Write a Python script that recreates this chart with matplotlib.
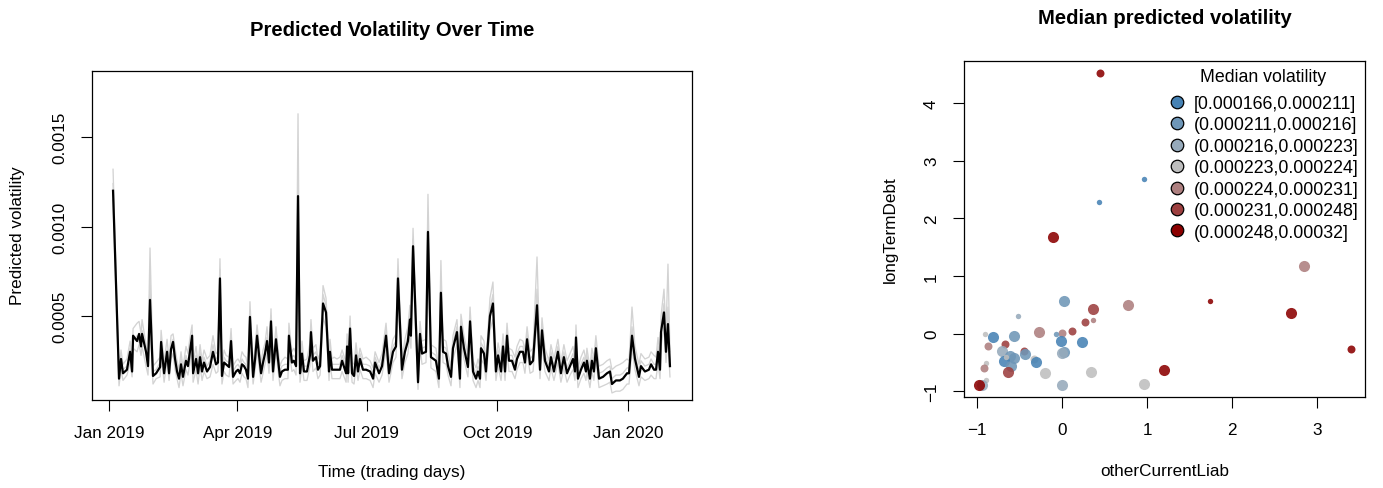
import numpy as np
import matplotlib
matplotlib.use("Agg")
import matplotlib.pyplot as plt
import matplotlib.dates as mdates
from matplotlib.lines import Line2D

plt.rcParams['font.family'] = ['Liberation Sans', 'DejaVu Sans']

# ---------------- left panel data ----------------
# days since 2019-01-01; volatility in units of 1e-4
days = [2.6, 6.8, 8.2, 9.6, 12.4, 14.6, 16.0, 16.7, 19.5, 20.9,
        22.3, 23.0, 25.8, 27.2, 28.6, 30.7, 32.9, 35.7, 36.4, 38.5,
        40.6, 42.0, 43.4, 44.8, 46.2, 47.6, 49.0, 50.4, 51.8, 53.9,
        55.3, 56.7, 58.2, 58.9, 61.0, 62.4, 63.8, 65.2, 66.6, 68.7,
        70.8, 72.9, 75.0, 76.4, 77.8, 79.2, 80.7, 82.1, 84.2, 85.6,
        87.0, 89.1, 90.5, 91.9, 93.3, 94.7, 96.1, 97.5, 98.9, 101.1,
        102.5, 103.9, 105.3, 106.7, 108.1, 109.5, 110.9, 112.3, 113.7, 115.1,
        117.2, 118.6, 120.0, 121.4, 123.5, 125.6, 126.3, 128.4, 129.8, 131.3,
        132.7, 134.1, 135.5, 136.9, 139.0, 141.1, 141.8, 143.2, 145.3, 146.7,
        148.2, 150.3, 152.4, 154.5, 155.2, 156.6, 158.0, 160.1, 162.2, 163.7,
        166.5, 167.2, 167.9, 169.3, 170.7, 172.1, 173.5, 174.9, 176.3, 178.4,
        180.6, 183.4, 185.5, 186.9, 189.7, 191.8, 194.6, 196.7, 199.5, 201.6,
        203.0, 205.8, 207.9, 210.0, 211.4, 212.1, 213.6, 217.1, 218.5, 219.9,
        222.7, 224.1, 226.2, 229.7, 231.8, 233.2, 234.7, 236.8, 238.2, 240.3,
        241.7, 244.5, 246.6, 247.3, 249.4, 252.2, 253.7, 255.8, 257.9, 259.3,
        260.7, 261.4, 263.5, 264.9, 266.3, 267.7, 269.8, 271.9, 273.4, 275.5,
        276.9, 278.3, 279.7, 281.1, 283.2, 285.3, 286.7, 288.8, 290.9, 292.3,
        293.8, 295.9, 298.0, 300.8, 302.9, 304.3, 306.4, 309.2, 310.6, 312.7,
        315.5, 317.6, 319.7, 321.9, 324.0, 326.1, 327.5, 328.2, 329.6, 331.7,
        333.8, 335.2, 335.9, 338.0, 339.4, 340.8, 342.2, 344.4, 347.2, 350.0,
        352.1, 353.5, 356.3, 359.1, 361.2, 364.1, 365.5, 367.6, 369.7, 372.5,
        373.9, 376.7, 379.5, 381.0, 383.1, 384.5, 385.9, 387.3, 388.0, 390.1,
        391.5, 392.9, 394.3]

vol_main = [12.0, 1.5, 2.6, 1.8, 2.0, 3.0, 1.9, 3.9, 3.6, 4.0,
            3.3, 4.0, 3.0, 2.2, 5.9, 1.65, 1.8, 2.15, 3.55, 1.8,
            3.0, 1.8, 3.15, 3.55, 2.6, 1.9, 1.5, 2.3, 1.6, 2.5,
            2.2, 3.0, 3.9, 1.8, 2.6, 1.8, 2.7, 1.9, 2.4, 1.9,
            2.15, 3.0, 2.3, 2.4, 7.1, 1.65, 2.4, 2.3, 2.15, 3.6,
            1.6, 1.9, 2.0, 1.8, 2.3, 2.2, 2.0, 1.5, 4.95, 1.6,
            2.6, 3.9, 2.8, 1.8, 2.4, 2.9, 3.6, 2.4, 4.7, 1.9,
            3.7, 2.6, 1.6, 1.9, 2.0, 2.0, 3.9, 2.4, 2.5, 2.2,
            11.7, 1.8, 2.9, 1.9, 1.9, 2.8, 4.1, 2.5, 2.7, 2.0,
            2.2, 5.7, 5.2, 1.9, 3.0, 2.0, 2.0, 2.0, 2.0, 2.5,
            1.8, 3.3, 1.8, 4.3, 1.8, 1.65, 2.8, 1.9, 2.6, 2.0,
            2.0, 1.9, 1.5, 2.4, 1.8, 2.2, 3.9, 1.8, 3.0, 3.3,
            7.1, 2.0, 3.0, 3.6, 4.8, 3.9, 8.9, 1.3, 4.0, 2.9,
            3.0, 9.7, 2.7, 2.5, 1.5, 6.3, 3.0, 2.9, 2.2, 1.6,
            3.2, 4.1, 1.5, 4.4, 3.2, 2.15, 4.7, 1.9, 1.5, 1.9,
            1.5, 3.2, 2.9, 1.9, 3.5, 5.0, 5.7, 1.9, 2.8, 1.9,
            3.3, 1.9, 3.9, 2.5, 2.5, 2.0, 2.6, 3.0, 3.0, 2.4,
            3.7, 2.3, 2.5, 5.6, 2.0, 4.2, 2.5, 1.9, 2.7, 1.9,
            3.0, 1.8, 2.7, 1.8, 2.2, 2.6, 1.9, 3.8, 1.5, 2.0,
            2.4, 1.9, 2.5, 1.5, 2.5, 1.9, 3.2, 1.5, 1.6, 1.8,
            1.9, 1.2, 1.4, 1.4, 1.5, 1.8, 1.8, 3.9, 2.6, 1.6,
            2.2, 1.9, 2.0, 2.3, 2.0, 2.0, 3.0, 2.0, 4.1, 5.2,
            3.0, 4.55, 2.2]

vol_grey1 = [13.2, 1.9, 3.1, 2.3, 2.6, 3.6, 2.6, 4.3, 4.6, 4.7,
             4.0, 4.8, 3.4, 2.8, 8.8, 2.2, 2.4, 2.7, 4.2, 2.4,
             3.7, 2.5, 3.9, 4.0, 3.2, 2.5, 2.0, 3.0, 2.1, 3.3,
             2.9, 3.8, 4.5, 2.4, 3.3, 2.3, 3.4, 2.5, 3.1, 2.6,
             2.8, 3.9, 2.9, 3.0, 8.2, 2.2, 3.1, 2.8, 2.7, 4.3,
             2.2, 2.5, 2.6, 2.4, 3.0, 2.8, 2.7, 2.1, 5.8, 2.2,
             3.3, 4.5, 3.4, 2.4, 3.1, 3.5, 4.4, 3.0, 5.4, 2.5,
             4.4, 3.2, 2.2, 2.5, 2.7, 2.6, 4.6, 3.0, 3.2, 2.9,
             16.3, 2.4, 3.6, 2.5, 2.6, 3.5, 4.8, 3.2, 3.4, 2.6,
             2.9, 6.7, 6.0, 2.6, 3.7, 2.6, 2.7, 2.6, 2.7, 3.1,
             2.4, 4.0, 2.4, 5.0, 2.4, 2.3, 3.5, 2.5, 3.2, 2.6,
             2.7, 2.5, 2.1, 3.0, 2.4, 2.9, 4.6, 2.4, 3.7, 4.0,
             8.2, 2.6, 3.7, 4.4, 5.6, 4.6, 9.9, 1.9, 4.7, 3.6,
             3.7, 11.8, 3.4, 3.2, 2.1, 8.1, 3.7, 3.6, 2.9, 2.2,
             3.9, 4.8, 2.1, 5.1, 3.9, 2.8, 5.5, 2.5, 2.1, 2.6,
             2.1, 3.9, 3.6, 2.5, 4.2, 6.0, 6.9, 2.5, 3.5, 2.6,
             4.0, 2.5, 4.6, 3.2, 3.1, 2.7, 3.3, 3.7, 3.6, 3.1,
             4.4, 3.0, 3.2, 8.3, 2.6, 4.9, 3.2, 2.5, 3.4, 2.6,
             3.7, 2.4, 3.4, 2.5, 2.9, 3.3, 2.5, 4.5, 2.1, 2.7,
             3.1, 2.5, 3.2, 2.1, 3.2, 2.6, 3.9, 2.2, 2.3, 2.5,
             2.6, 2.0, 2.2, 2.3, 2.4, 2.6, 2.5, 5.5, 3.3, 2.3,
             2.9, 2.6, 2.7, 3.0, 2.8, 2.7, 3.8, 2.8, 5.0, 6.5,
             4.0, 7.9, 3.0]

vol_grey2 = [11.5, 1.1, 2.0, 1.4, 1.7, 2.4, 1.6, 3.2, 3.0, 3.4,
             2.8, 3.3, 2.2, 1.7, 5.0, 1.2, 1.5, 1.6, 2.9, 1.3,
             2.5, 1.4, 2.6, 2.9, 2.0, 1.5, 1.0, 1.8, 1.1, 2.0,
             1.7, 2.4, 3.1, 1.3, 2.0, 1.2, 2.2, 1.4, 1.9, 1.5,
             1.6, 2.3, 1.8, 1.9, 6.0, 1.2, 1.9, 1.7, 1.6, 3.0,
             1.2, 1.4, 1.5, 1.3, 1.8, 1.6, 1.5, 1.0, 4.0, 1.2,
             2.0, 3.1, 2.2, 1.3, 1.8, 2.3, 2.9, 1.8, 3.9, 1.4,
             3.0, 2.0, 1.1, 1.4, 1.5, 1.5, 3.2, 1.9, 2.0, 1.7,
             10.6, 1.3, 2.3, 1.4, 1.4, 2.2, 3.3, 1.9, 2.1, 1.5,
             1.7, 4.9, 4.4, 1.4, 2.4, 1.5, 1.5, 1.5, 1.5, 1.9,
             1.3, 2.7, 1.3, 3.5, 1.3, 1.2, 2.2, 1.4, 2.0, 1.5,
             1.5, 1.4, 1.0, 1.8, 1.3, 1.7, 3.1, 1.3, 2.4, 2.7,
             6.1, 1.5, 2.4, 2.9, 4.0, 3.2, 7.8, 0.9, 3.3, 2.3,
             2.4, 8.5, 2.1, 1.9, 1.0, 5.4, 2.4, 2.3, 1.7, 1.1,
             2.6, 3.4, 1.0, 3.6, 2.6, 1.6, 3.9, 1.4, 1.0, 1.4,
             1.0, 2.6, 2.3, 1.4, 2.8, 4.2, 4.8, 1.4, 2.2, 1.4,
             2.7, 1.4, 3.1, 1.9, 1.9, 1.5, 2.0, 2.4, 2.4, 1.8,
             3.0, 1.8, 1.9, 4.8, 1.5, 3.4, 1.9, 1.4, 2.1, 1.4,
             2.4, 1.3, 2.1, 1.3, 1.7, 2.0, 1.4, 3.1, 1.0, 1.5,
             1.8, 1.4, 1.9, 1.0, 1.9, 1.4, 2.6, 1.0, 1.1, 1.2,
             1.3, 0.7, 0.8, 0.8, 0.9, 1.2, 1.2, 3.2, 2.0, 1.1,
             1.6, 1.4, 1.5, 1.7, 1.5, 1.5, 2.4, 1.5, 3.3, 4.4,
             2.4, 3.8, 1.6]

vol_grey3 = [12.4, 1.6, 2.4, 2.0, 2.2, 3.2, 2.1, 3.6, 3.9, 3.5,
             3.6, 4.2, 3.0, 2.5, 7.0, 1.9, 2.0, 2.4, 3.3, 2.1,
             3.1, 1.6, 3.3, 3.7, 2.9, 2.2, 1.8, 2.6, 1.9, 2.8,
             2.4, 3.3, 3.6, 2.1, 2.8, 2.0, 3.0, 2.1, 2.7, 2.2,
             2.5, 3.4, 2.6, 2.7, 7.6, 1.9, 2.7, 2.5, 2.4, 3.9,
             1.9, 2.2, 2.3, 2.1, 2.6, 2.4, 2.3, 1.8, 5.2, 1.9,
             2.9, 4.2, 3.0, 2.1, 2.7, 3.1, 3.8, 2.7, 5.0, 2.2,
             3.9, 2.8, 1.9, 2.2, 2.3, 2.3, 4.1, 2.7, 2.8, 2.5,
             13.4, 2.1, 3.2, 2.2, 2.2, 3.1, 4.4, 2.8, 3.0, 2.3,
             2.5, 6.2, 5.6, 2.2, 3.3, 2.3, 2.3, 2.3, 2.3, 2.8,
             2.1, 3.6, 2.1, 4.6, 2.1, 1.9, 3.1, 2.2, 2.9, 2.3,
             2.3, 2.2, 1.8, 2.7, 2.1, 2.5, 4.2, 2.1, 3.3, 3.6,
             7.6, 2.3, 3.3, 3.9, 5.1, 4.2, 9.3, 1.6, 4.3, 3.2,
             3.3, 10.4, 3.0, 2.8, 1.8, 7.0, 3.3, 3.2, 2.5, 1.9,
             3.5, 4.4, 1.8, 4.7, 3.5, 2.4, 5.0, 2.2, 1.8, 2.2,
             1.8, 3.5, 3.2, 2.2, 3.8, 5.4, 6.2, 2.2, 3.1, 2.2,
             3.6, 2.2, 4.2, 2.8, 2.8, 2.3, 2.9, 3.3, 3.3, 2.7,
             4.0, 2.6, 2.8, 6.5, 2.3, 4.5, 2.8, 2.2, 3.0, 2.2,
             3.3, 2.1, 3.0, 2.1, 2.5, 2.9, 2.2, 4.1, 1.8, 2.3,
             2.7, 2.2, 2.8, 1.8, 2.8, 2.2, 3.5, 1.8, 1.9, 2.1,
             2.2, 1.5, 1.7, 1.7, 1.8, 2.1, 2.1, 4.4, 2.9, 1.9,
             2.5, 2.2, 2.3, 2.6, 2.3, 2.3, 3.3, 2.3, 4.4, 5.7,
             3.3, 5.5, 2.5]

vol_unit = 1e-4
time_ticks = ['2019-01-01', '2019-04-01', '2019-07-01', '2019-10-01', '2020-01-01']
time_tick_labels = ['Jan 2019', 'Apr 2019', 'Jul 2019', 'Oct 2019', 'Jan 2020']
vol_ticks = [0.0005, 0.0010, 0.0015]
vol_tick_labels = ['0.0005', '0.0010', '0.0015']

# ---------------- right panel data ----------------
other_current_liab = [0.45, 0.96, 0.435, -0.10, 2.84, 1.74, 0.78, 0.02, 0.37, 0.37,
                      0.27, 0.12, 2.69, 3.39, 1.20, 0.96, 0.34, 0.00, -0.20, 0.24,
                      0.00, -0.07, -0.01, 0.02, 0.00, -0.27, -0.51, -0.56, -0.81, -0.90,
                      -0.87, -0.67, -0.70, -0.61, -0.45, -0.43, -0.56, -0.68, -0.60, -0.33,
                      -0.30, -0.63, -0.89, -0.91, -0.89, -0.66, -0.94, -0.97]
long_term_debt = [4.52, 2.68, 2.28, 1.67, 1.17, 0.57, 0.50, 0.56, 0.43, 0.24,
                  0.20, 0.05, 0.35, -0.27, -0.63, -0.88, -0.66, -0.89, -0.69, -0.15,
                  0.01, 0.00, -0.12, -0.32, -0.34, 0.03, 0.31, -0.05, -0.06, 0.00,
                  -0.21, -0.18, -0.31, -0.38, -0.31, -0.36, -0.42, -0.47, -0.56, -0.44,
                  -0.49, -0.66, -0.51, -0.60, -0.81, -0.40, -0.90, -0.90]
vol_class = [7, 1, 1, 7, 5, 7, 5, 2, 6, 5,
             6, 6, 7, 7, 7, 4, 4, 3, 4, 1,
             5, 2, 1, 2, 3, 5, 3, 2, 1, 4,
             5, 6, 3, 2, 6, 2, 2, 1, 2, 4,
             1, 6, 4, 5, 4, 4, 3, 7]
point_size = ['M', 'S', 'S', 'L', 'L', 'S', 'L', 'L', 'L', 'S',
              'M', 'M', 'L', 'M', 'L', 'L', 'L', 'L', 'L', 'L',
              'M', 'S', 'L', 'L', 'L', 'L', 'S', 'L', 'L', 'S',
              'M', 'M', 'L', 'L', 'M', 'L', 'L', 'L', 'L', 'M',
              'L', 'L', 'S', 'M', 'S', 'S', 'L', 'L']
class_labels = ['[0.000166,0.000211]', '(0.000211,0.000216]', '(0.000216,0.000223]',
                '(0.000223,0.000224]', '(0.000224,0.000231]', '(0.000231,0.000248]',
                '(0.000248,0.00032]']
class_colors = ['#4682B4', '#6E96B7', '#96AABB', '#BEBEBE', '#AD7F7F', '#9C3F3F', '#8B0000']

# ---------------- figure ----------------
W, H = 1383, 489
fig = plt.figure(figsize=(W / 100, H / 100), dpi=100)
FS = 12.3
LFS = 12.8
TFS = 14.6


def px_rect(l, t, r, b):
    return [l / W, 1 - b / H, (r - l) / W, (b - t) / H]


# Left panel
ax1 = fig.add_axes(px_rect(92, 72, 692, 401))
t0 = mdates.date2num(np.datetime64('2019-01-01'))
xt = t0 + np.array(days)
for g in (vol_grey1, vol_grey2, vol_grey3):
    ax1.plot(xt, np.array(g) * vol_unit, color='#D3D3D3', lw=0.95, zorder=1)
ax1.plot(xt, np.array(vol_main) * vol_unit, color='black', lw=1.6, zorder=2)
ax1.set_xlim(t0 - 12.2, t0 + 409.8)
ax1.set_ylim(3.07e-5, 1.869e-3)
ax1.set_xticks(mdates.date2num(np.array(time_ticks, dtype='datetime64[D]')))
ax1.set_xticklabels(time_tick_labels)
ax1.set_yticks(vol_ticks)
ax1.set_yticklabels(vol_tick_labels, rotation=90, va='center')
ax1.tick_params(direction='out', length=8, width=0.8, pad=10, labelsize=FS)
for s in ax1.spines.values():
    s.set_linewidth(0.9)
fig.text(392 / W, 1 - 30 / H, 'Predicted Volatility Over Time', ha='center', va='center',
         fontsize=TFS, fontweight='bold')
fig.text(392 / W, 1 - 472 / H, 'Time (trading days)', ha='center', va='center', fontsize=FS)
fig.text(18 / W, 1 - 236 / H, 'Predicted volatility', ha='center', va='center',
         rotation=90, fontsize=FS)

# Right panel
ax2 = fig.add_axes(px_rect(964, 62, 1365, 398))
size_map = {'S': 15, 'M': 33, 'L': 64}
for xv, yv, c, s in zip(other_current_liab, long_term_debt, vol_class, point_size):
    ax2.scatter([xv], [yv], s=size_map[s], color=class_colors[c - 1], alpha=0.88,
                linewidths=0, zorder=2)
ax2.set_xlim(-1.149, 3.56)
ax2.set_ylim(-1.1, 4.73)
ax2.set_xticks([-1, 0, 1, 2, 3])
ax2.set_yticks([-1, 0, 1, 2, 3, 4])
for lab in ax2.get_yticklabels():
    lab.set_rotation(90)
    lab.set_va('center')
ax2.tick_params(direction='out', length=8, width=0.8, pad=10, labelsize=FS)
for s in ax2.spines.values():
    s.set_linewidth(0.9)

handles = [Line2D([], [], linestyle='none', marker='o', markersize=9,
                  markerfacecolor=c, markeredgecolor='black', markeredgewidth=0.9)
           for c in class_colors]
fpx = LFS * 100 / 72.0
leg = ax2.legend(handles, class_labels, loc='upper left',
                 bbox_to_anchor=(1169 / W, 1 - 96 / H), bbox_transform=fig.transFigure,
                 frameon=False, fontsize=LFS, labelspacing=0.25,
                 handletextpad=9.0 / fpx, handlelength=16.0 / fpx,
                 borderaxespad=0, borderpad=0)
fig.text(1263 / W, 1 - 77 / H, 'Median volatility', ha='center', va='center', fontsize=LFS)

fig.text(1164.5 / W, 1 - 19 / H, 'Median predicted volatility', ha='center', va='center',
         fontsize=TFS, fontweight='bold')
fig.text(1164.5 / W, 1 - 472 / H, 'otherCurrentLiab', ha='center', va='center', fontsize=FS)
fig.text(890 / W, 1 - 230 / H, 'longTermDebt', ha='center', va='center', rotation=90,
         fontsize=FS)

fig.savefig('out.png', dpi=100)
